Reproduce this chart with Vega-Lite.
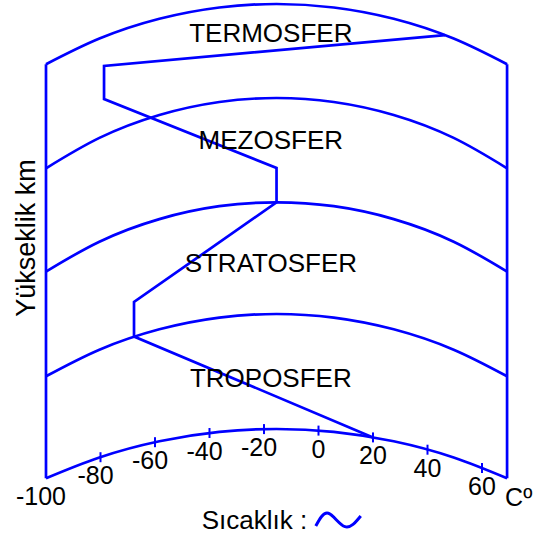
{
  "$schema": "https://vega.github.io/schema/vega-lite/v6.json",
  "width": 551,
  "height": 538,
  "padding": 0,
  "autosize": {"type": "none"},
  "background": "white",
  "config": {"view": {"stroke": null}, "text": {"font": "Liberation Sans", "color": "black"}},
  "datasets": {
    "arcs": [
      {"g": "A1", "t": -100, "h": 59.7}, {"g": "A1", "t": -80.4, "h": 80.5}, {"g": "A1", "t": -58.4, "h": 96.7}, {"g": "A1", "t": -36.4, "h": 106.1}, {"g": "A1", "t": -15.4, "h": 109}, {"g": "A1", "t": 5.6, "h": 106.1}, {"g": "A1", "t": 27.6, "h": 96.7}, {"g": "A1", "t": 49.6, "h": 80.5}, {"g": "A1", "t": 69.2, "h": 59.7},
      {"g": "A2", "t": -100, "h": 161.7}, {"g": "A2", "t": -80.4, "h": 188.3}, {"g": "A2", "t": -58.4, "h": 208.7}, {"g": "A2", "t": -36.4, "h": 220.4}, {"g": "A2", "t": -15.4, "h": 224}, {"g": "A2", "t": 5.6, "h": 220.4}, {"g": "A2", "t": 27.6, "h": 208.7}, {"g": "A2", "t": 49.6, "h": 188.3}, {"g": "A2", "t": 69.2, "h": 161.7},
      {"g": "A3", "t": -100, "h": 266.4}, {"g": "A3", "t": -80.4, "h": 296.3}, {"g": "A3", "t": -58.4, "h": 318.9}, {"g": "A3", "t": -36.4, "h": 331.8}, {"g": "A3", "t": -15.4, "h": 335.7}, {"g": "A3", "t": 5.6, "h": 331.8}, {"g": "A3", "t": 27.6, "h": 318.9}, {"g": "A3", "t": 49.6, "h": 296.3}, {"g": "A3", "t": 69.2, "h": 266.4},
      {"g": "A4", "t": -100, "h": 369.7}, {"g": "A4", "t": -80.4, "h": 400.1}, {"g": "A4", "t": -58.4, "h": 423.0}, {"g": "A4", "t": -36.4, "h": 436.0}, {"g": "A4", "t": -15.4, "h": 440}, {"g": "A4", "t": 5.6, "h": 436.0}, {"g": "A4", "t": 27.6, "h": 423.0}, {"g": "A4", "t": 49.6, "h": 400.1}, {"g": "A4", "t": 69.2, "h": 369.7},
      {"g": "A5", "t": -100, "h": 473.7}, {"g": "A5", "t": -80.4, "h": 499.4}, {"g": "A5", "t": -58.4, "h": 519.2}, {"g": "A5", "t": -36.4, "h": 530.5}, {"g": "A5", "t": -15.4, "h": 534}, {"g": "A5", "t": 5.6, "h": 530.5}, {"g": "A5", "t": 27.6, "h": 519.2}, {"g": "A5", "t": 49.6, "h": 499.4}, {"g": "A5", "t": 69.2, "h": 473.7}
    ],
    "straight": [
      {"g": "left", "i": 0, "t": -100, "h": 59.7}, {"g": "left", "i": 1, "t": -100, "h": 473.7},
      {"g": "right", "i": 0, "t": 69.2, "h": 59.7}, {"g": "right", "i": 1, "t": 69.2, "h": 473.7},
      {"g": "profile", "i": 0, "t": 20, "h": 100.6},
      {"g": "profile", "i": 1, "t": -67.7, "h": 201.5},
      {"g": "profile", "i": 2, "t": -67.7, "h": 236},
      {"g": "profile", "i": 3, "t": -15.4, "h": 335.7},
      {"g": "profile", "i": 4, "t": -15.4, "h": 370},
      {"g": "profile", "i": 5, "t": -78.7, "h": 439},
      {"g": "profile", "i": 6, "t": -78.7, "h": 472},
      {"g": "profile", "i": 7, "t": 46.4, "h": 502.9}
    ],
    "ticks": [
      {"t": -100, "h": 59.7, "label": "-100"},
      {"t": -80, "h": 80.8, "label": "-80"},
      {"t": -60, "h": 95.8, "label": "-60"},
      {"t": -40, "h": 105, "label": "-40"},
      {"t": -20, "h": 108.9, "label": "-20"},
      {"t": 0, "h": 107.4, "label": "0"},
      {"t": 20, "h": 100.6, "label": "20"},
      {"t": 40, "h": 88.3, "label": "40"},
      {"t": 60, "h": 70, "label": "60"}
    ],
    "layers": [
      {"t": -17.5, "h": 496.3, "name": "TERMOSFER"},
      {"t": -17.5, "h": 389, "name": "MEZOSFER"},
      {"t": -17.5, "h": 266.3, "name": "STRATOSFER"},
      {"t": -17.5, "h": 151.3, "name": "TROPOSFER"}
    ],
    "wave": [
      {"i": 0, "t": -1.0, "h": 12},
      {"i": 1, "t": 3.6, "h": 24.7},
      {"i": 2, "t": 9.7, "h": 11.3},
      {"i": 3, "t": 15.5, "h": 22}
    ]
  },
  "layer": [
    {
      "data": {"name": "arcs"},
      "mark": {"type": "line", "interpolate": "natural", "color": "#0000ff", "strokeWidth": 2.7},
      "encoding": {
        "x": {"field": "t", "type": "quantitative", "scale": {"domain": [-116.88, 85.32], "nice": false, "zero": false}, "axis": null},
        "y": {"field": "h", "type": "quantitative", "scale": {"domain": [0, 538], "nice": false, "zero": false}, "axis": null},
        "detail": {"field": "g"}
      }
    },
    {
      "data": {"name": "straight"},
      "mark": {"type": "line", "color": "#0000ff", "strokeWidth": 2.7},
      "encoding": {
        "x": {"field": "t", "type": "quantitative", "scale": {"domain": [-116.88, 85.32], "nice": false, "zero": false}, "axis": null},
        "y": {"field": "h", "type": "quantitative", "scale": {"domain": [0, 538], "nice": false, "zero": false}, "axis": null},
        "detail": {"field": "g"},
        "order": {"field": "i", "type": "quantitative"}
      }
    },
    {
      "data": {"name": "ticks"},
      "transform": [{"filter": "datum.t > -100"}],
      "mark": {"type": "tick", "orient": "vertical", "size": 10, "thickness": 2, "color": "#0000ff", "opacity": 1},
      "encoding": {
        "x": {"field": "t", "type": "quantitative", "scale": {"domain": [-116.88, 85.32], "nice": false, "zero": false}, "axis": null},
        "y": {"field": "h", "type": "quantitative", "scale": {"domain": [0, 538], "nice": false, "zero": false}, "axis": null}
      }
    },
    {
      "data": {"name": "ticks"},
      "transform": [{"filter": "datum.t < 0"}],
      "mark": {"type": "text", "fontSize": 25, "align": "center", "baseline": "alphabetic", "dx": -5, "dy": 27},
      "encoding": {
        "x": {"field": "t", "type": "quantitative", "scale": {"domain": [-116.88, 85.32], "nice": false, "zero": false}, "axis": null},
        "y": {"field": "h", "type": "quantitative", "scale": {"domain": [0, 538], "nice": false, "zero": false}, "axis": null},
        "text": {"field": "label"}
      }
    },
    {
      "data": {"name": "ticks"},
      "transform": [{"filter": "datum.t >= 0"}],
      "mark": {"type": "text", "fontSize": 25, "align": "center", "baseline": "alphabetic", "dy": 27},
      "encoding": {
        "x": {"field": "t", "type": "quantitative", "scale": {"domain": [-116.88, 85.32], "nice": false, "zero": false}, "axis": null},
        "y": {"field": "h", "type": "quantitative", "scale": {"domain": [0, 538], "nice": false, "zero": false}, "axis": null},
        "text": {"field": "label"}
      }
    },
    {
      "data": {"values": [{"t": 69.2, "h": 59.7, "label": "Cº"}]},
      "mark": {"type": "text", "fontSize": 25, "align": "left", "baseline": "alphabetic", "dx": -2, "dy": 28},
      "encoding": {
        "x": {"field": "t", "type": "quantitative", "scale": {"domain": [-116.88, 85.32], "nice": false, "zero": false}, "axis": null},
        "y": {"field": "h", "type": "quantitative", "scale": {"domain": [0, 538], "nice": false, "zero": false}, "axis": null},
        "text": {"field": "label"}
      }
    },
    {
      "data": {"name": "layers"},
      "mark": {"type": "text", "fontSize": 26, "align": "center", "baseline": "alphabetic"},
      "encoding": {
        "x": {"field": "t", "type": "quantitative", "scale": {"domain": [-116.88, 85.32], "nice": false, "zero": false}, "axis": null},
        "y": {"field": "h", "type": "quantitative", "scale": {"domain": [0, 538], "nice": false, "zero": false}, "axis": null},
        "text": {"field": "name"}
      }
    },
    {
      "data": {"values": [{"t": -104, "h": 300, "label": "Yükseklik km"}]},
      "mark": {"type": "text", "fontSize": 27, "align": "center", "baseline": "alphabetic", "angle": 270},
      "encoding": {
        "x": {"field": "t", "type": "quantitative", "scale": {"domain": [-116.88, 85.32], "nice": false, "zero": false}, "axis": null},
        "y": {"field": "h", "type": "quantitative", "scale": {"domain": [0, 538], "nice": false, "zero": false}, "axis": null},
        "text": {"field": "label"}
      }
    },
    {
      "data": {"values": [{"t": -23.5, "h": 8.7, "label": "Sıcaklık :"}]},
      "mark": {"type": "text", "fontSize": 26, "align": "center", "baseline": "alphabetic"},
      "encoding": {
        "x": {"field": "t", "type": "quantitative", "scale": {"domain": [-116.88, 85.32], "nice": false, "zero": false}, "axis": null},
        "y": {"field": "h", "type": "quantitative", "scale": {"domain": [0, 538], "nice": false, "zero": false}, "axis": null},
        "text": {"field": "label"}
      }
    },
    {
      "data": {"name": "wave"},
      "mark": {"type": "line", "interpolate": "natural", "color": "#0000ff", "strokeWidth": 3},
      "encoding": {
        "x": {"field": "t", "type": "quantitative", "scale": {"domain": [-116.88, 85.32], "nice": false, "zero": false}, "axis": null},
        "y": {"field": "h", "type": "quantitative", "scale": {"domain": [0, 538], "nice": false, "zero": false}, "axis": null},
        "order": {"field": "i", "type": "quantitative"}
      }
    }
  ]
}
